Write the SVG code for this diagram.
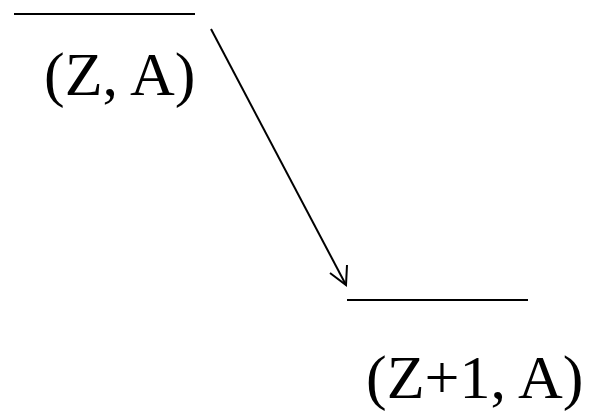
<svg xmlns="http://www.w3.org/2000/svg" width="590" height="412" viewBox="0 0 590 412">
<style>
.lvl{stroke:#000;stroke-width:2;fill:none}
.arr{stroke:#000;stroke-width:2;fill:none}
.lbl{font-family:"Liberation Serif","Times New Roman",serif;font-size:62px;fill:#000}
</style>
<rect width="590" height="412" fill="#fff"/>
<g id="level1">
<line class="lvl" x1="14" y1="14" x2="195" y2="14"/>
<text class="lbl" x="44" y="95">(Z, A)</text>
</g>
<g id="level2">
<line class="lvl" x1="347" y1="300" x2="528" y2="300"/>
<text class="lbl" x="366" y="398">(Z+1, A)</text>
</g>
<g id="connectors">
<line class="arr" x1="211" y1="29" x2="346" y2="285"/>
<polyline class="arr" points="330,273 346,285 347,265"/>
</g>
</svg>
